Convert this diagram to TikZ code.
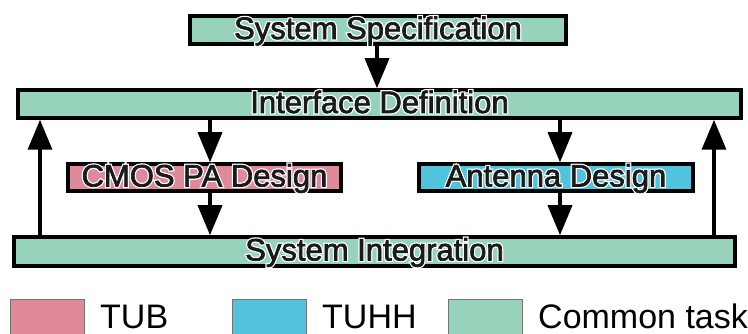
\documentclass[tikz,border=0pt]{standalone}
\usepackage{fontspec}
\setmainfont{Liberation Sans}
\usetikzlibrary{arrows.meta}
\definecolor{commongreen}{HTML}{97D3BB}
\definecolor{tubpink}{HTML}{DF899B}
\definecolor{tuhhblue}{HTML}{52C3DC}
\definecolor{labeltext}{HTML}{1A1A1A}
% label set over a thin white outline of itself, with a slightly heavier stroke
\newcommand\halotext[1]{\leavevmode
  \rlap{\special{pdf:literal direct 1 Tr 3.2 w 1 1 1 RG}#1\special{pdf:literal direct 0 Tr}}%
  \special{pdf:literal direct 2 Tr 0.7 w 0.102 0.102 0.102 RG}#1\special{pdf:literal direct 0 Tr}}
\tikzset{
  taskbox/.style={draw=black, line width=3.5pt, rectangle, inner sep=0pt,
    text height=22pt, text depth=4pt, font=\fontsize{31}{31}\selectfont,
    text=labeltext},
  flow/.style={line width=3.5pt, -{Triangle[length=30pt,width=24pt]}},
  legendbox/.style={draw=black!55, line width=0.8pt},
  legendtext/.style={anchor=base west, inner sep=0pt,
    font=\fontsize{34}{34}\selectfont, text=black},
}
\begin{document}
\begin{tikzpicture}[x=1pt,y=-1pt]
  \useasboundingbox (0,0) rectangle (748,334);
  \clip (0,0) rectangle (748,334);

  % task boxes
  \node[taskbox, fill=commongreen, minimum width=376pt, minimum height=28pt]
    (spec) at (378,30) {\halotext{System Specification}};
  \node[taskbox, fill=commongreen, minimum width=723pt, minimum height=28pt]
    (iface) at (379.5,104) {\halotext{Interface Definition}};
  \node[taskbox, fill=tubpink, minimum width=273pt, minimum height=27pt]
    (cmos) at (204.5,177.5) {\halotext{CMOS PA Design}};
  \node[taskbox, fill=tuhhblue, minimum width=274pt, minimum height=27pt]
    (ant) at (556,177.5) {\halotext{Antenna Design}};
  \node[taskbox, fill=commongreen, minimum width=721pt, minimum height=29pt]
    (integ) at (374.5,251.5) {\halotext{System Integration}};

  % anchor points of the connectors
  \coordinate (cmosin) at ([xshift=5.5pt]cmos.north);
  \coordinate (cmosout) at ([xshift=5.5pt]cmos.south);
  \coordinate (antin) at ([xshift=4pt]ant.north);
  \coordinate (antout) at ([xshift=4pt]ant.south);
  \coordinate (leftup) at (40,0);
  \coordinate (rightup) at (714,0);

  % connectors
  \draw[flow] (spec.south -| 377,0) -- (iface.north -| 377,0);
  \draw[flow] (iface.south -| cmosin) -- (cmosin);
  \draw[flow] (iface.south -| antin) -- (antin);
  \draw[flow] (cmosout) -- (integ.north -| cmosout);
  \draw[flow] (antout) -- (integ.north -| antout);
  \draw[flow] (integ.north -| leftup) -- (iface.south -| leftup);
  \draw[flow] (integ.north -| rightup) -- (iface.south -| rightup);

  % legend
  \draw[legendbox, fill=tubpink] (10,299) rectangle (84,340);
  \node[legendtext] (ltub) at (100,328) {TUB};
  \draw[legendbox, fill=tuhhblue] (232,299) rectangle (306,340);
  \node[legendtext] (ltuhh) at (322,328) {TUHH};
  \draw[legendbox, fill=commongreen] (448,299) rectangle (522,340);
  \node[legendtext] (lcommon) at (538,328) {Common task};
\end{tikzpicture}
\end{document}
